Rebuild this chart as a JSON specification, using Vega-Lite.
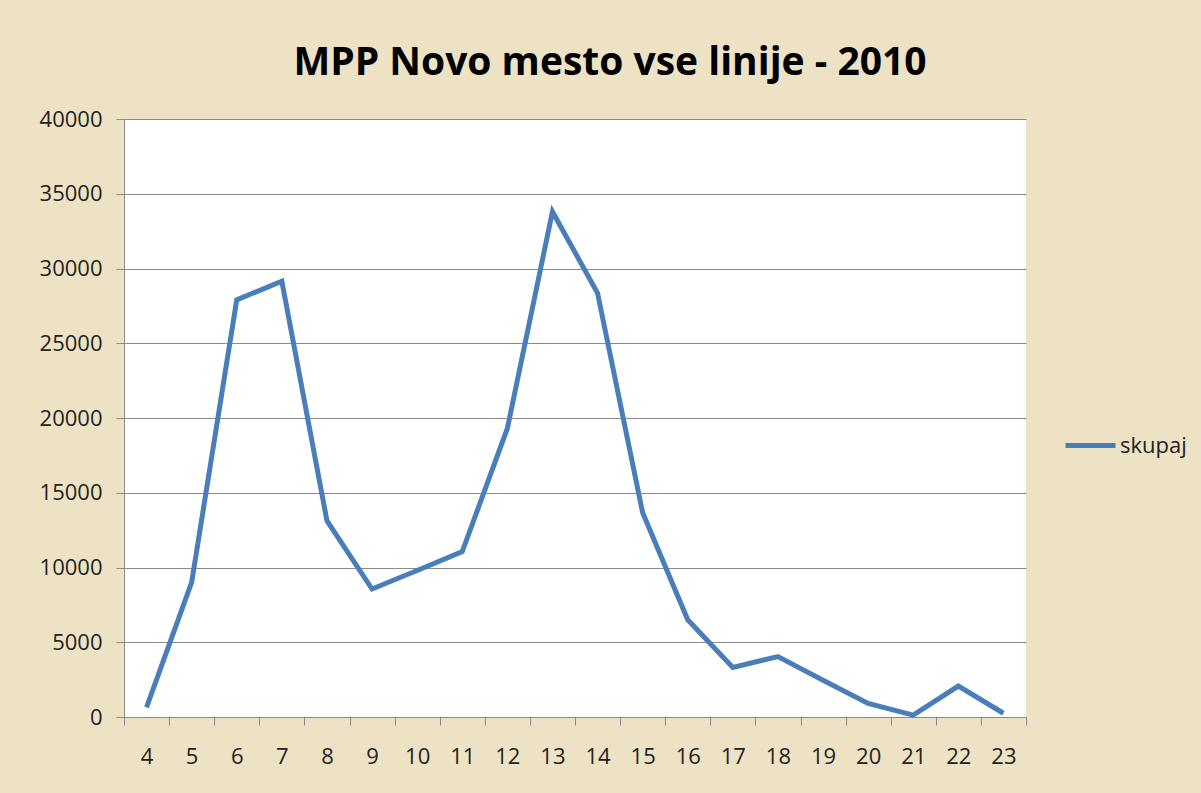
{
  "$schema": "https://vega.github.io/schema/vega-lite/v6.json",
  "width": 902,
  "height": 598,
  "autosize": {"type": "none"},
  "padding": {"left": 124, "top": 119, "right": 175, "bottom": 76},
  "background": "#eee2c5",
  "title": {
    "text": "MPP Novo mesto vse linije - 2010",
    "font": "Open Sans",
    "fontSize": 39,
    "fontWeight": "bold",
    "color": "#000000",
    "anchor": "middle",
    "dx": 35,
    "offset": 25
  },
  "data": {
    "values": [
      {"ura": 4, "potniki": 650, "serija": "skupaj"},
      {"ura": 5, "potniki": 9000, "serija": "skupaj"},
      {"ura": 6, "potniki": 27900, "serija": "skupaj"},
      {"ura": 7, "potniki": 29150, "serija": "skupaj"},
      {"ura": 8, "potniki": 13130, "serija": "skupaj"},
      {"ura": 9, "potniki": 8560, "serija": "skupaj"},
      {"ura": 10, "potniki": 9800, "serija": "skupaj"},
      {"ura": 11, "potniki": 11060, "serija": "skupaj"},
      {"ura": 12, "potniki": 19300, "serija": "skupaj"},
      {"ura": 13, "potniki": 33800, "serija": "skupaj"},
      {"ura": 14, "potniki": 28360, "serija": "skupaj"},
      {"ura": 15, "potniki": 13660, "serija": "skupaj"},
      {"ura": 16, "potniki": 6500, "serija": "skupaj"},
      {"ura": 17, "potniki": 3320, "serija": "skupaj"},
      {"ura": 18, "potniki": 4040, "serija": "skupaj"},
      {"ura": 19, "potniki": 2460, "serija": "skupaj"},
      {"ura": 20, "potniki": 910, "serija": "skupaj"},
      {"ura": 21, "potniki": 130, "serija": "skupaj"},
      {"ura": 22, "potniki": 2070, "serija": "skupaj"},
      {"ura": 23, "potniki": 250, "serija": "skupaj"}
    ]
  },
  "mark": {"type": "line", "strokeWidth": 5, "strokeJoin": "miter"},
  "encoding": {
    "x": {
      "field": "ura",
      "type": "ordinal",
      "bandPosition": 0.5,
      "scale": {"type": "band", "paddingInner": 0, "paddingOuter": 0},
      "axis": {
        "title": null,
        "labelAngle": 0,
        "tickBand": "extent",
        "tickSize": 8,
        "labelPadding": 21,
        "grid": false
      }
    },
    "y": {
      "field": "potniki",
      "type": "quantitative",
      "scale": {"domain": [0, 40000], "nice": false},
      "axis": {
        "title": null,
        "tickCount": 8,
        "format": "d",
        "tickSize": 8,
        "labelPadding": 14,
        "grid": true
      }
    },
    "color": {
      "field": "serija",
      "type": "nominal",
      "scale": {"range": ["#4a7ebb"]},
      "legend": {
        "title": null,
        "orient": "none",
        "legendX": 939,
        "legendY": 299,
        "symbolType": "stroke",
        "symbolSize": 2500,
        "symbolStrokeWidth": 5,
        "labelFont": "Open Sans",
        "labelFontSize": 22,
        "labelColor": "#222222",
        "labelOffset": 2,
        "padding": 0
      }
    }
  },
  "config": {
    "view": {"fill": "#ffffff", "stroke": null},
    "axis": {
      "labelFont": "Open Sans",
      "labelFontSize": 22,
      "labelColor": "#222222",
      "tickColor": "#8a8a8a",
      "domainColor": "#8a8a8a",
      "gridColor": "#8a8a8a",
      "gridOpacity": 1,
      "domainWidth": 1,
      "tickWidth": 1,
      "gridWidth": 1
    }
  }
}
